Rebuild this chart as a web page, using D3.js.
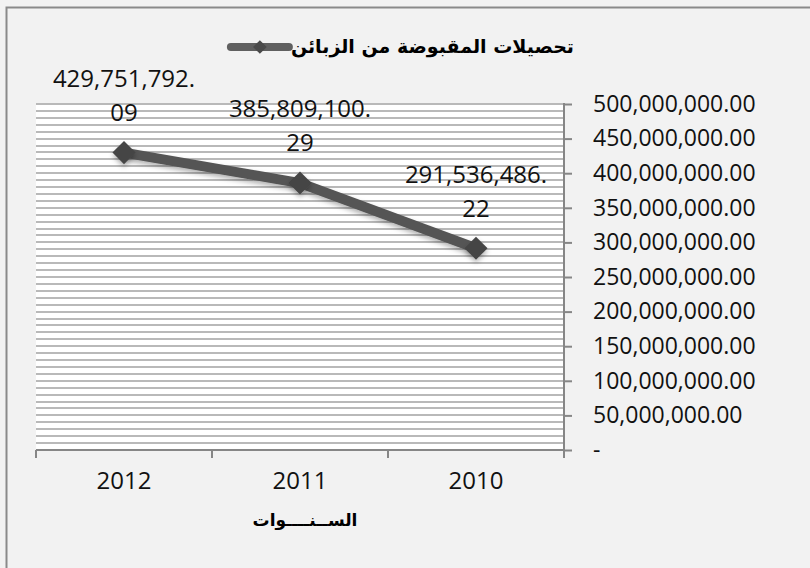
<!DOCTYPE html>
<html>
<head>
<meta charset="utf-8">
<script src="https://cdn.jsdelivr.net/npm/d3@7"></script>
<style>
  body { margin: 0; background: #f2f2f2; }
  svg { display: block; }
  .num { font-family: "Open Sans", "DejaVu Sans", sans-serif; fill: #111; }
  .ar { font-family: "DejaVu Sans", sans-serif; font-weight: bold; fill: #000; }
</style>
</head>
<body>
<div id="chart"></div>
<script>
// data
var years = ["2012", "2011", "2010"];
var collections = [429751792.09, 385809100.29, 291536486.22];
var yTickValues = [0, 50000000, 100000000, 150000000, 200000000, 250000000,
                   300000000, 350000000, 400000000, 450000000, 500000000];
var chartTitle = "تحصيلات المقبوضة من الزبائن";
var xTitle = "الســنــــوات";

var svgWidth = 810;
var svgHeight = 568;

var plot = { left: 36, right: 564, top: 104, bottom: 450 };

var svg = d3.select("#chart")
  .append("svg")
  .attr("width", svgWidth)
  .attr("height", svgHeight);

var defs = svg.append("defs");
var shadow = defs.append("filter")
  .attr("id", "shadow")
  .attr("x", "-50%").attr("y", "-50%")
  .attr("width", "200%").attr("height", "200%");
shadow.append("feDropShadow")
  .attr("dx", 0).attr("dy", 3)
  .attr("stdDeviation", 2.5)
  .attr("flood-color", "#000")
  .attr("flood-opacity", 0.3);

// chart area + border (only left and top edges are in the picture)
svg.append("rect")
  .attr("x", 0).attr("y", 0)
  .attr("width", svgWidth).attr("height", svgHeight)
  .attr("fill", "#f2f2f2");
svg.append("rect")
  .attr("x", 6.5).attr("y", 7.5)
  .attr("width", 830).attr("height", 620)
  .attr("fill", "none")
  .attr("stroke", "#8a8a8a")
  .attr("stroke-width", 2);

// scales
var xScale = d3.scaleBand()
  .domain(years)
  .range([plot.left, plot.right])
  .padding(0);

var yScale = d3.scaleLinear()
  .domain([0, 500000000])
  .range([plot.bottom, plot.top]);

// plot background
svg.append("rect")
  .attr("x", plot.left).attr("y", plot.top)
  .attr("width", plot.right - plot.left)
  .attr("height", plot.bottom - plot.top)
  .attr("fill", "#fff");

// minor gridlines every 10M
var gridValues = d3.range(10000000, 500000001, 10000000);
svg.append("g")
  .selectAll("line")
  .data(gridValues)
  .enter()
  .append("line")
  .attr("x1", plot.left)
  .attr("x2", plot.right)
  .attr("y1", d => Math.round(yScale(d)))
  .attr("y2", d => Math.round(yScale(d)))
  .attr("stroke", "#b9b9b9")
  .attr("stroke-width", 2);

// right value axis
var rightAxis = d3.axisRight(yScale)
  .tickValues(yTickValues)
  .tickSize(8)
  .tickPadding(21)
  .tickFormat(d => d === 0 ? "-" : d3.format(",.2f")(d));

var yAxis = svg.append("g")
  .attr("transform", `translate(${plot.right}, 0)`)
  .call(rightAxis);
yAxis.select(".domain").remove();
yAxis.selectAll("line").attr("stroke", "#868686").attr("stroke-width", 2);
yAxis.selectAll("text")
  .attr("class", "num")
  .style("font-size", "23px")
  .attr("fill", "#111");
yAxis.append("line")
  .attr("x1", 0).attr("x2", 0)
  .attr("y1", plot.top - 1).attr("y2", plot.bottom)
  .attr("stroke", "#868686")
  .attr("stroke-width", 2);

// bottom category axis
var bottomAxis = svg.append("g")
  .attr("transform", `translate(0, ${plot.bottom})`);
bottomAxis.append("line")
  .attr("x1", plot.left).attr("x2", plot.right)
  .attr("stroke", "#868686")
  .attr("stroke-width", 2);
bottomAxis.selectAll(".tick")
  .data(years.concat(["end"]))
  .enter()
  .append("line")
  .attr("x1", (d, i) => i < years.length ? xScale(d) : plot.right)
  .attr("x2", (d, i) => i < years.length ? xScale(d) : plot.right)
  .attr("y1", 0).attr("y2", 8)
  .attr("stroke", "#868686")
  .attr("stroke-width", 2);
bottomAxis.selectAll("text")
  .data(years)
  .enter()
  .append("text")
  .attr("class", "num")
  .attr("x", d => xScale(d) + xScale.bandwidth() / 2)
  .attr("y", 31)
  .attr("dy", "0.35em")
  .attr("text-anchor", "middle")
  .style("font-size", "24px")
  .text(d => d);

// series line
var points = years.map((y, i) => ({ year: y, value: collections[i] }));
var line = d3.line()
  .x(d => xScale(d.year) + xScale.bandwidth() / 2)
  .y(d => yScale(d.value));

svg.append("path")
  .datum(points)
  .attr("d", line)
  .attr("fill", "none")
  .attr("stroke", "#555")
  .attr("stroke-width", 10)
  .attr("filter", "url(#shadow)");

var diamond = d3.symbol().type(d3.symbolDiamond2).size(340);
svg.selectAll(".marker")
  .data(points)
  .enter()
  .append("path")
  .attr("class", "marker")
  .attr("d", diamond)
  .attr("transform", d => `translate(${xScale(d.year) + xScale.bandwidth() / 2}, ${yScale(d.value)})`)
  .attr("fill", "#454545")
  .attr("filter", "url(#shadow)");

// data labels, wrapped after the decimal point like the original
var fmt = d3.format(",.2f");
var labels = svg.append("g");
points.forEach(function(d) {
  var s = fmt(d.value);
  var cut = s.indexOf(".") + 1;
  var cx = xScale(d.year) + xScale.bandwidth() / 2;
  var cy = yScale(d.value) - 40;
  labels.append("text")
    .attr("class", "num")
    .attr("x", cx)
    .attr("y", cy - 34)
    .attr("dy", "0.35em")
    .attr("text-anchor", "middle")
    .style("font-size", "24px")
    .text(s.slice(0, cut));
  labels.append("text")
    .attr("class", "num")
    .attr("x", cx)
    .attr("y", cy)
    .attr("dy", "0.35em")
    .attr("text-anchor", "middle")
    .style("font-size", "24px")
    .text(s.slice(cut));
});

// title with legend key on its left
var title = svg.append("text")
  .attr("class", "ar")
  .attr("x", 574)
  .attr("y", 46)
  .attr("dy", "0.35em")
  .attr("text-anchor", "end")
  .style("font-size", "19px")
  .text(chartTitle);
var tw = title.node().getComputedTextLength();
var keyRight = 574 - tw - 2;
svg.append("line")
  .attr("x1", keyRight - 58).attr("x2", keyRight)
  .attr("y1", 47).attr("y2", 47)
  .attr("stroke", "#606060")
  .attr("stroke-width", 8)
  .attr("stroke-linecap", "round");
svg.append("path")
  .attr("d", d3.symbol().type(d3.symbolDiamond2).size(120))
  .attr("transform", `translate(${keyRight - 29}, 47)`)
  .attr("fill", "#4a4a4a");

// x axis title
svg.append("text")
  .attr("class", "ar")
  .attr("x", 305)
  .attr("y", 520)
  .attr("dy", "0.35em")
  .attr("text-anchor", "middle")
  .style("font-size", "17px")
  .text(xTitle);
</script>
</body>
</html>
